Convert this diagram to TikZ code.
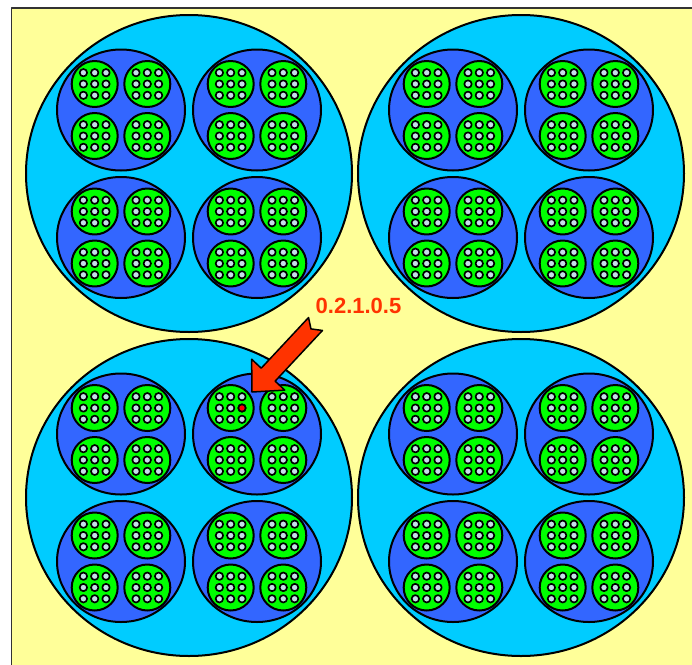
\documentclass[tikz,border=0pt]{standalone}
\usepackage{fontspec}
\setmainfont{Liberation Sans}
\usetikzlibrary{calc}
\definecolor{paper}{RGB}{255,255,153}
\definecolor{outerc}{RGB}{0,204,255}
\definecolor{midc}{RGB}{51,102,255}
\definecolor{leafc}{RGB}{0,255,0}
\definecolor{dotc}{RGB}{196,222,232}
\definecolor{pointer}{RGB}{255,51,0}

\begin{document}
\begin{tikzpicture}[x=0.03cm,y=-0.03cm,line join=round]
\useasboundingbox (0,0) rectangle (692,665);
\clip (0,0) rectangle (692,665);
\draw[fill=paper,draw=black!80,line width=0.045cm] (11.5,8) rectangle (720,700);
% four levels: big -> medium -> leaf -> dot
\foreach \cx/\cy in {189/173.5,521/173.5,189/497.5,521/497.5}{
  \draw[fill=outerc,line width=0.06cm] (\cx,\cy) ellipse [x radius=163,y radius=158.5];
  \foreach \mx/\my in {-68/-63.5,68/-63.5,-68/64,68/64}{
    \draw[fill=midc,line width=0.06cm] (\cx+\mx,\cy+\my) ellipse [x radius=64,y radius=60.5];
    \foreach \gx/\gy in {-26.3/-26,26.3/-26,-26.3/26,26.3/26}{
      \draw[fill=leafc,line width=0.06cm] (\cx+\mx+\gx,\cy+\my+\gy) circle [radius=23];
      \foreach \dx in {-11.3,0,11.3}
        \foreach \dy in {-11.3,0,11.3}
          \draw[fill=dotc,line width=0.05cm] (\cx+\mx+\gx+\dx,\cy+\my+\gy+\dy) circle [radius=3.7];
    }
  }
}
\coordinate (target) at (242,408);
\draw[fill=red,line width=0.05cm] (target) circle [radius=3.7];
\node[text=pointer,font=\bfseries\fontsize{18.8}{20}\selectfont,inner sep=0] (addr) at (358.5,306) {0.2.1.0.5};
\coordinate (tail) at (315.5,324);
\coordinate (tip) at (252,392);
\coordinate (hb) at ($(tip)!0.255!(tail)$);
\coordinate (nb) at ($(tail)!0.2cm!(tip)$);
\draw[fill=pointer,line width=0.045cm] (tip) -- ($(hb)!0.68cm!90:(tail)$) -- ($(hb)!0.285cm!90:(tail)$)
  -- ($(tail)!0.285cm!-90:(tip)$) -- (nb) -- ($(tail)!0.285cm!90:(tip)$)
  -- ($(hb)!0.285cm!-90:(tail)$) -- ($(hb)!0.68cm!-90:(tail)$) -- cycle;
\end{tikzpicture}
\end{document}
